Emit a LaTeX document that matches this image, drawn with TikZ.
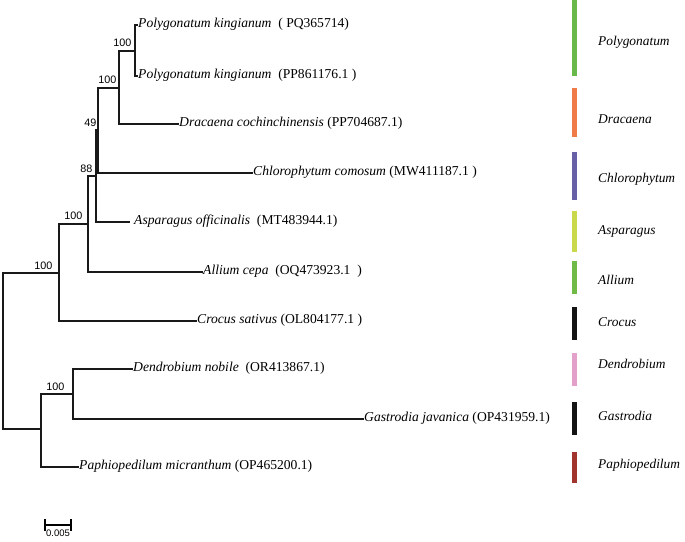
\documentclass[tikz,border=0pt]{standalone}
\usepackage{fontspec}
\setmainfont{Liberation Serif}
\newfontfamily\bsfont{Liberation Sans}
\definecolor{cPoly}{RGB}{104,184,76}
\definecolor{cDrac}{RGB}{240,122,72}
\definecolor{cChlo}{RGB}{104,96,166}
\definecolor{cAspa}{RGB}{202,216,76}
\definecolor{cAlli}{RGB}{112,186,72}
\definecolor{cCroc}{RGB}{20,20,20}
\definecolor{cDend}{RGB}{226,160,202}
\definecolor{cGast}{RGB}{20,20,20}
\definecolor{cPaph}{RGB}{162,52,46}
\begin{document}
\begin{tikzpicture}[x=1pt,y=-1pt,
  branch/.style={line width=2pt,line cap=rect,black!90},
  leaf/.style={anchor=mid west,inner sep=1pt,font=\fontsize{13.6}{15}\selectfont},
  boot/.style={anchor=south east,inner sep=0.5pt,font=\bsfont\fontsize{10.8}{12}\selectfont},
  clade/.style={anchor=mid west,inner sep=0pt,font=\itshape\fontsize{13.4}{15}\selectfont},
  bar/.style={line width=5pt}]
\useasboundingbox (0,0) rectangle (685,541);
% internal nodes
\coordinate (A) at (135,50.5);
\coordinate (B) at (119,88);
\coordinate (C) at (98,130);
\coordinate (D) at (96,176);
\coordinate (E) at (88,224);
\coordinate (F) at (59,273);
\coordinate (H) at (73,394);
\coordinate (G) at (41,429);
\coordinate (R) at (3,351);
% tips
\coordinate (t1) at (137,25);
\coordinate (t2) at (137,76);
\coordinate (t3) at (178,124);
\coordinate (t4) at (252,173);
\coordinate (t5) at (129,222);
\coordinate (t6) at (202,272);
\coordinate (t7) at (196,321);
\coordinate (t8) at (132,369);
\coordinate (t9) at (363,419);
\coordinate (t10) at (78,467);
% branches
\draw[branch] (A) |- (t1);
\draw[branch] (A) |- (t2);
\draw[branch] (B) |- (A);
\draw[branch] (B) |- (t3);
\draw[branch] (C) |- (B);
\draw[branch] (C) |- (t4);
\draw[branch] (D) |- (C);
\draw[branch] (D) |- (t5);
\draw[branch] (E) |- (D);
\draw[branch] (E) |- (t6);
\draw[branch] (F) |- (E);
\draw[branch] (F) |- (t7);
\draw[branch] (H) |- (t8);
\draw[branch] (H) |- (t9);
\draw[branch] (G) |- (H);
\draw[branch] (G) |- (t10);
\draw[branch] (R) |- (F);
\draw[branch] (R) |- (G);
% leaf labels
\node[leaf] (l1) at (t1) {\textit{Polygonatum kingianum}\ \ ( PQ365714)};
\node[leaf] (l2) at (t2) {\textit{Polygonatum kingianum}\ \ (PP861176.1 )};
\node[leaf] (l3) at (t3) {\textit{Dracaena cochinchinensis}\ (PP704687.1)};
\node[leaf] (l4) at (t4) {\textit{Chlorophytum comosum}\ (MW411187.1 )};
\node[leaf,xshift=4pt] (l5) at (t5) {\textit{Asparagus officinalis}\ \ (MT483944.1)};
\node[leaf] (l6) at (t6) {\textit{Allium cepa}\ \ (OQ473923.1\ \ )};
\node[leaf] (l7) at (t7) {\textit{Crocus sativus}\ (OL804177.1 )};
\node[leaf] (l8) at (t8) {\textit{Dendrobium nobile}\ \ (OR413867.1)};
\node[leaf] (l9) at (t9) {\textit{Gastrodia javanica}\ (OP431959.1)};
\node[leaf] (l10) at (t10) {\textit{Paphiopedilum micranthum}\ (OP465200.1)};
% bootstrap values
\node[boot] (bA) at (132,47) {100};
\node[boot] (bB) at (117,84) {100};
\node[boot] (bC) at (97,127) {49};
\node[boot] (bD) at (93,173) {88};
\node[boot] (bE) at (83,220) {100};
\node[boot] (bF) at (53,270) {100};
\node[boot] (bH) at (65,391) {100};
% scale bar
\coordinate (s1) at (45,525);
\coordinate (s2) at (71,525);
\draw[line width=1.6pt] (s1) -- (s2);
\draw[line width=1.6pt] ([yshift=-6pt]s1) -- ([yshift=6pt]s1);
\draw[line width=1.6pt] ([yshift=-6pt]s2) -- ([yshift=6pt]s2);
\node[anchor=north,inner sep=0pt,font=\bsfont\fontsize{9.5}{11}\selectfont] (sl) at (58,530) {0.005};
% clade bars
\draw[bar,cPoly] (574,0) -- (574,76);
\draw[bar,cDrac] (574,88) -- (574,137);
\draw[bar,cChlo] (574,152) -- (574,200);
\draw[bar,cAspa] (574,211) -- (574,252);
\draw[bar,cAlli] (574,261) -- (574,294);
\draw[bar,cCroc] (574,307) -- (574,340);
\draw[bar,cDend] (574,353) -- (574,386);
\draw[bar,cGast] (574,402) -- (574,435);
\draw[bar,cPaph] (574,452) -- (574,483);
% clade labels
\node[clade] (c1) at (598,43) {Polygonatum};
\node[clade] (c2) at (598,121) {Dracaena};
\node[clade] (c3) at (598,180) {Chlorophytum};
\node[clade] (c4) at (598,232) {Asparagus};
\node[clade] (c5) at (598,282) {Allium};
\node[clade] (c6) at (598,324) {Crocus};
\node[clade] (c7) at (598,366) {Dendrobium};
\node[clade] (c8) at (598,418) {Gastrodia};
\node[clade] (c9) at (598,466) {Paphiopedilum};
\end{tikzpicture}
\end{document}
